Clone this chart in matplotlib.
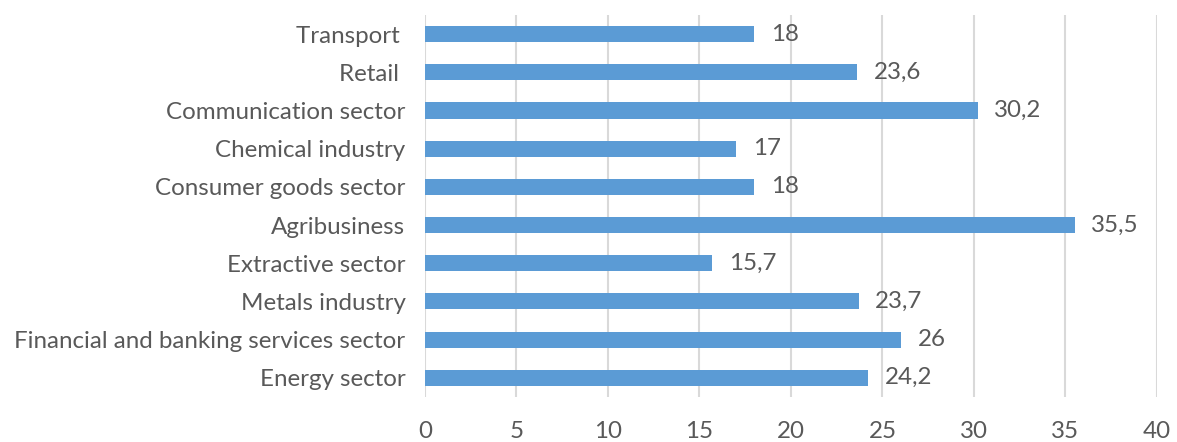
import matplotlib.pyplot as plt

sectors = ['Energy sector', 'Financial and banking services sector', 'Metals industry',
           'Extractive sector', 'Agribusiness', 'Consumer goods sector',
           'Chemical industry', 'Communication sector', 'Retail ', 'Transport ']
values = [24.2, 26, 23.7, 15.7, 35.5, 18, 17, 30.2, 23.6, 18]
labels = ['24,2', '26', '23,7', '15,7', '35,5', '18', '17', '30,2', '23,6', '18']
xticks = [0, 5, 10, 15, 20, 25, 30, 35, 40]

plt.rcParams['font.family'] = ['Lato', 'DejaVu Sans']
text_color = '#595959'
fsize = 17.4

fig = plt.figure(figsize=(11.77, 4.42), dpi=100)
ax = fig.add_axes([0.361, 0.102, 0.622, 0.864])

ax.barh(range(len(sectors)), values, height=0.42, color='#5B9BD5', zorder=3)
for i, (v, lab) in enumerate(zip(values, labels)):
    ax.annotate(lab, (v, i), xytext=(12, 0), textcoords='offset points',
                va='center', ha='left', fontsize=fsize, color=text_color)

ax.set_xlim(0, 40)
ax.set_ylim(-0.5, len(sectors) - 0.5)
ax.set_xticks(xticks)
ax.set_xticklabels([str(t) for t in xticks])
ax.set_yticks(range(len(sectors)))
ax.set_yticklabels(sectors)
ax.tick_params(axis='both', length=0, labelsize=fsize, colors=text_color)
ax.tick_params(axis='x', pad=17)
ax.tick_params(axis='y', pad=14)
ax.grid(axis='x', color='#D9D9D9', linewidth=1.5, zorder=0)
for s in ax.spines.values():
    s.set_visible(False)

fig.savefig('out.png', dpi=100)
